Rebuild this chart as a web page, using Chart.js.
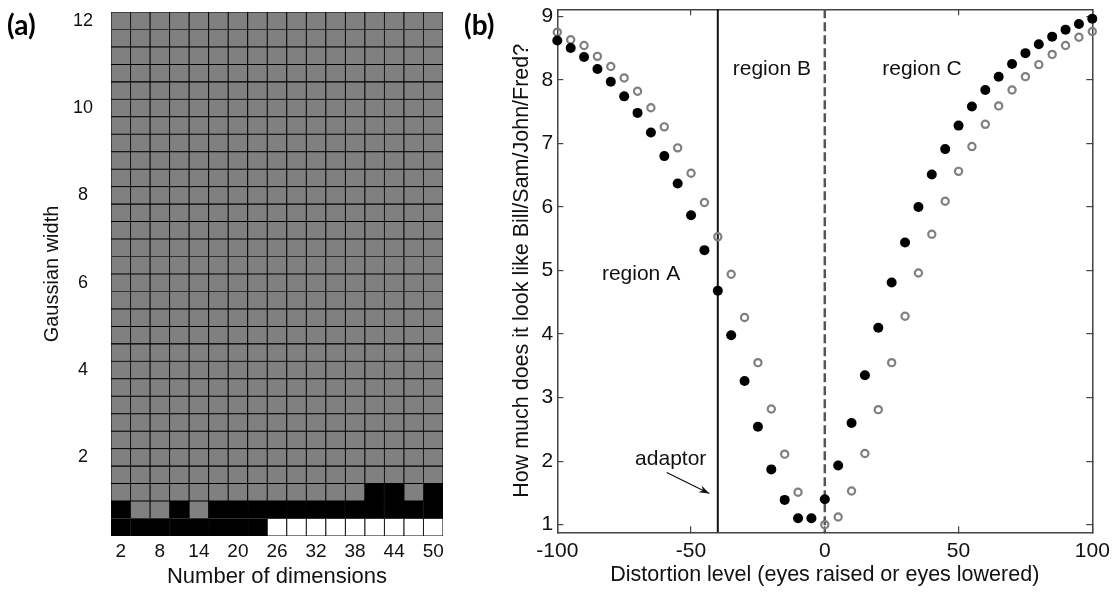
<!DOCTYPE html>
<html>
<head>
<meta charset="utf-8">
<script src="https://cdn.jsdelivr.net/npm/chart.js@4/dist/chart.umd.min.js"></script>
<style>
  body { margin: 0; background: #fff; }
  #wrap { position: relative; width: 1120px; height: 592px; overflow: hidden; }
  canvas { position: absolute; top: 0; }
  #gridChart { left: 0; }
  #ratingChart { left: 460px; }
  .tag { position: absolute; font-family: Lato, "Open Sans", sans-serif; font-weight: bold; font-size: 28px; color: #000; }
</style>
</head>
<body>
<div id="wrap">
  <canvas id="gridChart" width="470" height="592"></canvas>
  <canvas id="ratingChart" width="660" height="592"></canvas>
  <div class="tag" style="left:7px; top:7px;">(a)</div>
  <div class="tag" style="left:464px; top:7px;">(b)</div>
</div>
<script>
// panel (a): outcome for each dimension count / gaussian width
const dims = [2, 5, 8, 11, 14, 17, 20, 23, 26, 29, 32, 35, 38, 41, 44, 47, 50];
const widths = [0.4, 0.8, 1.2, 1.6, 2.0, 2.4, 2.8, 3.2, 3.6, 4.0, 4.4, 4.8, 5.2, 5.6, 6.0,
                6.4, 6.8, 7.2, 7.6, 8.0, 8.4, 8.8, 9.2, 9.6, 10.0, 10.4, 10.8, 11.2, 11.6, 12.0];
const widthTicks = [2, 4, 6, 8, 10, 12];
// 0 = black, 1 = gray, 2 = white
const outcomeW04 = [0, 0, 0, 0, 0, 0, 0, 0, 2, 2, 2, 2, 2, 2, 2, 2, 2];
const outcomeW08 = [0, 1, 1, 0, 1, 0, 0, 0, 0, 0, 0, 0, 0, 0, 0, 0, 0];
const outcomeW12 = [1, 1, 1, 1, 1, 1, 1, 1, 1, 1, 1, 1, 1, 0, 0, 1, 0];
const outcomeRest = [1, 1, 1, 1, 1, 1, 1, 1, 1, 1, 1, 1, 1, 1, 1, 1, 1];

// panel (b): ratings vs distortion
const distortion = [-100, -95, -90, -85, -80, -75, -70, -65, -60, -55, -50, -45, -40, -35, -30, -25, -20, -15, -10, -5,
                    0, 5, 10, 15, 20, 25, 30, 35, 40, 45, 50, 55, 60, 65, 70, 75, 80, 85, 90, 95, 100];
const adaptedRating = [8.62, 8.50, 8.36, 8.17, 7.97, 7.74, 7.48, 7.17, 6.80, 6.37, 5.87, 5.32, 4.68, 3.98, 3.26, 2.54, 1.87, 1.39, 1.10, 1.10,
                       1.40, 1.93, 2.60, 3.35, 4.10, 4.81, 5.44, 6.00, 6.51, 6.91, 7.28, 7.58, 7.84, 8.05, 8.25, 8.42, 8.56, 8.68, 8.79, 8.88, 8.96];
const baselineRating = [8.75, 8.63, 8.54, 8.37, 8.21, 8.03, 7.82, 7.56, 7.26, 6.93, 6.53, 6.07, 5.53, 4.94, 4.26, 3.55, 2.82, 2.11, 1.51, null,
                        1.00, 1.12, 1.53, 2.12, 2.81, 3.55, 4.28, 4.96, 5.57, 6.09, 6.56, 6.95, 7.30, 7.59, 7.84, 8.05, 8.24, 8.40, 8.54, 8.67, 8.76];
const ratingTicks = [1, 2, 3, 4, 5, 6, 7, 8, 9];
const adaptorX = -40;
const zeroX = 0;

const fontFam = '"Liberation Sans", Arial, Helvetica, sans-serif';
const cellColors = ['#000000', '#808080', '#ffffff'];

function outcomeRow(r) {
    if (r === 0) return outcomeW04;
    if (r === 1) return outcomeW08;
    if (r === 2) return outcomeW12;
    return outcomeRest;
}

// labels near the ends shouldn't push the plot area in
function noEdgePad(s) {
    s.paddingTop = 0;
    s.paddingBottom = 0;
    s.paddingLeft = 0;
    s.paddingRight = 0;
}

let gridSets = widths.map((w, r) => ({
    data: dims.map(() => [w - 0.2, w + 0.2]),
    backgroundColor: outcomeRow(r).map(c => cellColors[c]),
    borderColor: '#000',
    borderWidth: 0.85,
    borderSkipped: false,
    grouped: false,
    barPercentage: 1,
    categoryPercentage: 1
}));

new Chart(document.getElementById('gridChart'), {
    type: 'bar',
    data: { labels: dims, datasets: gridSets },
    options: {
        responsive: false,
        animation: false,
        devicePixelRatio: 1,
        layout: { padding: { left: 0, right: 27, top: 12, bottom: 0 } },
        plugins: { legend: { display: false }, tooltip: { enabled: false } },
        scales: {
            x: {
                grid: { display: false },
                border: { display: false },
                ticks: {
                    autoSkip: false, maxRotation: 0, padding: -4,
                    color: '#111', font: { family: fontFam, size: 19 },
                    callback: (v, i) => i % 2 === 0 ? dims[i] : ''
                },
                title: { display: true, text: 'Number of dimensions', color: '#111',
                         font: { family: fontFam, size: 22 }, padding: { top: 0, bottom: 2 } },
                afterFit: s => { s.height = 56; noEdgePad(s); }
            },
            y: {
                type: 'linear', min: 0.2, max: 12.2,
                grid: { display: false },
                border: { display: false },
                afterBuildTicks: s => { s.ticks = widthTicks.map(v => ({ value: v })); },
                ticks: { crossAlign: 'center', padding: 10, color: '#111', font: { family: fontFam, size: 18 } },
                title: { display: true, text: 'Gaussian width', color: '#111',
                         font: { family: fontFam, size: 20 }, padding: { top: 40, bottom: 0 } },
                afterFit: s => { s.width = 111; noEdgePad(s); }
            }
        }
    }
});

// reference lines + text labels for panel (b)
const annotatePlugin = {
    id: 'annotate',
    beforeDatasetsDraw(chart) {
        const { ctx, chartArea, scales } = chart;
        ctx.save();
        ctx.lineWidth = 2;
        ctx.strokeStyle = '#111';
        let xa = scales.x.getPixelForValue(adaptorX);
        ctx.beginPath(); ctx.moveTo(xa, chartArea.top); ctx.lineTo(xa, chartArea.bottom); ctx.stroke();
        ctx.strokeStyle = '#555';
        ctx.lineWidth = 2.5;
        ctx.setLineDash([9, 4]);
        let x0 = scales.x.getPixelForValue(zeroX);
        ctx.beginPath(); ctx.moveTo(x0, chartArea.top); ctx.lineTo(x0, chartArea.bottom); ctx.stroke();
        ctx.setLineDash([]);

        ctx.fillStyle = '#111';
        ctx.font = '21px ' + fontFam;
        ctx.textAlign = 'center';
        ctx.textBaseline = 'middle';
        const labels = [['region A', -68.7, 4.94], ['region B', -19.8, 8.17], ['region C', 36.3, 8.17], ['adaptor', -57.6, 2.03]];
        labels.forEach(l => ctx.fillText(l[0], scales.x.getPixelForValue(l[1]), scales.y.getPixelForValue(l[2])));

        // arrow to the adaptor line
        let ax1 = scales.x.getPixelForValue(-59.1), ay1 = scales.y.getPixelForValue(1.82);
        let ax2 = scales.x.getPixelForValue(-43.2), ay2 = scales.y.getPixelForValue(1.49);
        ctx.lineWidth = 1.2;
        ctx.strokeStyle = '#111';
        ctx.beginPath(); ctx.moveTo(ax1, ay1); ctx.lineTo(ax2, ay2); ctx.stroke();
        let ang = Math.atan2(ay2 - ay1, ax2 - ax1);
        ctx.beginPath();
        ctx.moveTo(ax2, ay2);
        ctx.lineTo(ax2 - 11 * Math.cos(ang - 0.35), ay2 - 11 * Math.sin(ang - 0.35));
        ctx.lineTo(ax2 - 7 * Math.cos(ang), ay2 - 7 * Math.sin(ang));
        ctx.lineTo(ax2 - 11 * Math.cos(ang + 0.35), ay2 - 11 * Math.sin(ang + 0.35));
        ctx.closePath();
        ctx.fill();
        ctx.restore();
    }
};

function toPoints(vals) {
    return distortion.map((x, i) => ({ x: x, y: vals[i] })).filter(p => p.y !== null);
}

const frame = { display: true, color: '#444', width: 1.5 };
const inTicks = { drawOnChartArea: false, drawTicks: true, tickLength: -6, color: '#444', lineWidth: 1.2 };

new Chart(document.getElementById('ratingChart'), {
    type: 'scatter',
    data: {
        datasets: [
            {
                label: 'adapted',
                data: toPoints(adaptedRating),
                pointRadius: 5,
                pointBackgroundColor: '#000',
                pointBorderWidth: 0,
                clip: false
            },
            {
                label: 'baseline',
                data: toPoints(baselineRating),
                pointRadius: 3.6,
                pointBackgroundColor: 'rgba(0,0,0,0)',
                pointBorderColor: '#7f7f7f',
                pointBorderWidth: 2.2,
                clip: false
            }
        ]
    },
    options: {
        responsive: false,
        animation: false,
        devicePixelRatio: 1,
        layout: { padding: { left: 0, right: 27.7, top: 9.3, bottom: 0 } },
        plugins: { legend: { display: false }, tooltip: { enabled: false } },
        scales: {
            x: {
                type: 'linear', min: -100, max: 100,
                grid: inTicks, border: frame,
                ticks: { stepSize: 50, maxRotation: 0, padding: 12, color: '#111', font: { family: fontFam, size: 21 } },
                title: { display: true, text: 'Distortion level (eyes raised or eyes lowered)', color: '#111',
                         font: { family: fontFam, size: 21.5 }, padding: { top: 0, bottom: 4 } },
                afterFit: s => { s.height = 59.7; noEdgePad(s); }
            },
            x2: {
                type: 'linear', position: 'top', min: -100, max: 100,
                grid: inTicks, border: frame,
                ticks: { stepSize: 50, display: false },
                afterFit: s => { s.height = 0; noEdgePad(s); }
            },
            y: {
                type: 'linear', min: 0.88, max: 9.11,
                grid: inTicks, border: frame,
                afterBuildTicks: s => { s.ticks = ratingTicks.map(v => ({ value: v })); },
                ticks: { padding: 10, color: '#111', font: { family: fontFam, size: 21 } },
                title: { display: true, text: 'How much does it look like Bill/Sam/John/Fred?', color: '#111',
                         font: { family: fontFam, size: 21.5 }, padding: { top: 49, bottom: 0 } },
                afterFit: s => { s.width = 97.3; noEdgePad(s); }
            },
            y2: {
                type: 'linear', position: 'right', min: 0.88, max: 9.11,
                grid: inTicks, border: frame,
                afterBuildTicks: s => { s.ticks = ratingTicks.map(v => ({ value: v })); },
                ticks: { display: false },
                afterFit: s => { s.width = 0; noEdgePad(s); }
            }
        }
    },
    plugins: [annotatePlugin]
});
</script>
</body>
</html>
